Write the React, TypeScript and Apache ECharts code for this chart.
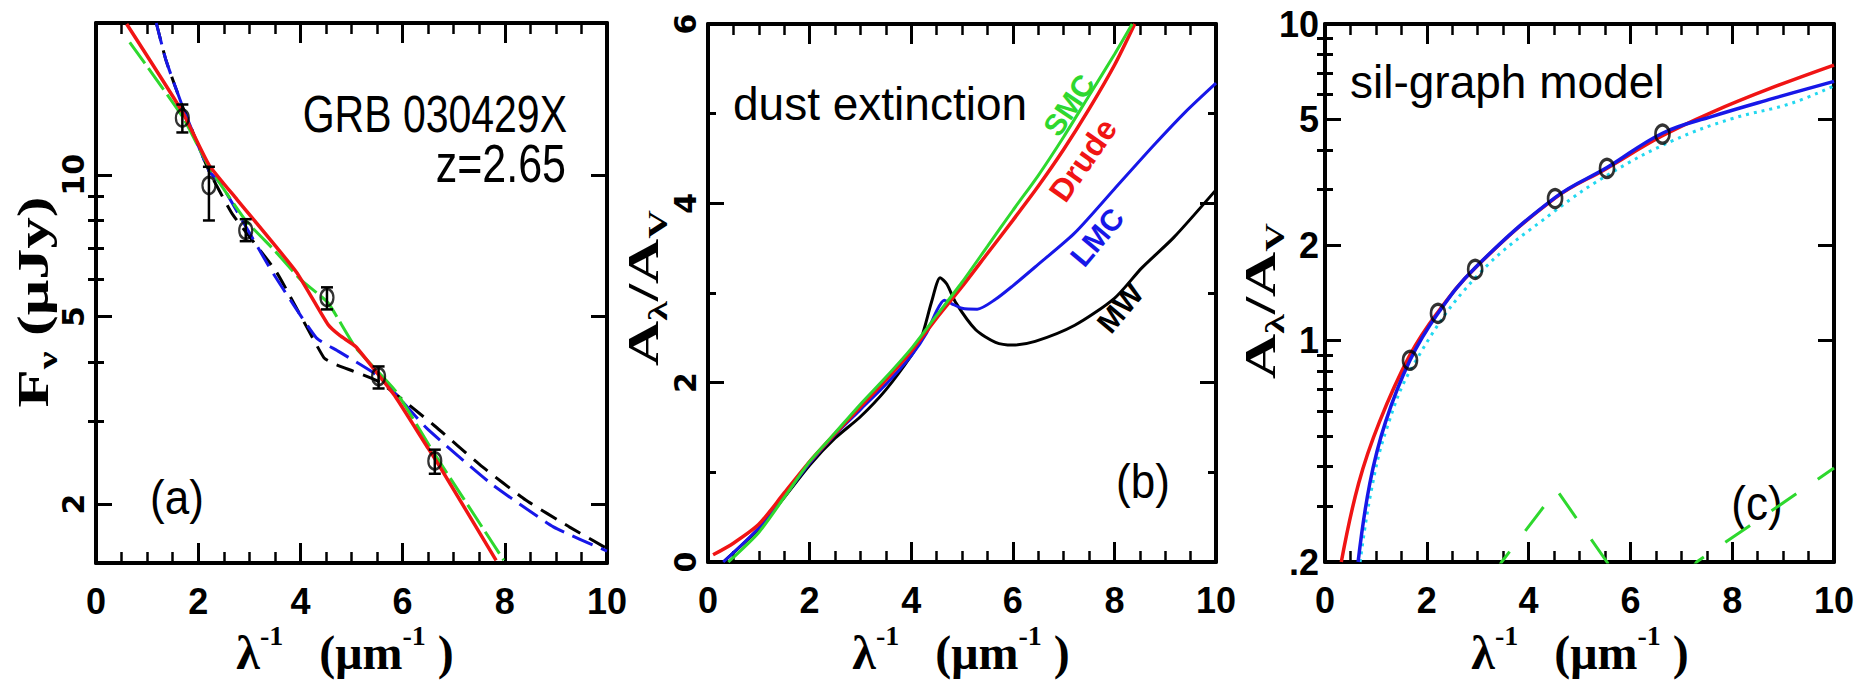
import React, { useEffect, useRef } from 'react';
import * as echarts from 'echarts';

// ---------------- shared axis values ----------------
const X_MIN = 0;
const X_MAX = 10;
const X_STEP = 2;

// ---------------- panel (a): GRB 030429X flux ----------------
const aYMin = 1.5;
const aYMax = 21;
const aYMajor = [2, 5, 10];
const aYMinor = [3, 4, 6, 7, 8, 9];

const aObsX = [1.69, 2.21, 2.93, 4.52, 5.53, 6.63];
const aObsFlux = [13.2, 9.49, 7.62, 5.49, 3.73, 2.47];
const aObsLo = [12.3, 8.0, 7.23, 5.18, 3.52, 2.32];
const aObsHi = [14.1, 10.4, 8.05, 5.77, 3.92, 2.61];

const aDrudeX = [0.6, 1.69, 2.21, 2.76, 3.92, 4.54, 4.77, 5.08, 5.53, 5.86, 6.44, 6.71, 7.83];
const aDrudeY = [20.9, 13.6, 10.5, 8.86, 6.22, 4.81, 4.56, 4.32, 3.76, 3.38, 2.69, 2.42, 1.52];

const aSmcX = [0.66, 1.69, 2.21, 2.93, 3.5, 4.0, 4.54, 5.08, 5.86, 6.63, 7.2, 7.98];
const aSmcY = [19.1, 13.3, 10.4, 8.0, 6.9, 6.0, 5.35, 4.3, 3.48, 2.55, 2.05, 1.52];

const aMwX = [1.18, 1.37, 1.69, 2.21, 2.68, 3.53, 4.46, 4.69, 5.55, 6.63, 7.52, 8.41, 9.26, 10.0];
const aMwY = [21.0, 17.5, 14.0, 10.2, 8.22, 6.22, 4.09, 3.96, 3.63, 2.93, 2.42, 2.04, 1.79, 1.61];

const aLmcX = [1.18, 1.37, 1.69, 2.21, 2.45, 3.45, 4.31, 4.73, 5.55, 6.47, 7.71, 8.95, 10.0];
const aLmcY = [21.0, 17.5, 14.0, 10.2, 9.54, 6.22, 4.51, 4.23, 3.72, 2.9, 2.22, 1.79, 1.59];

// ---------------- panel (b): dust extinction curves ----------------
const bYMin = 0;
const bYMax = 6;
const bYStep = 2;

const bMwX = [0.3, 1.0, 1.5, 2.0, 2.5, 3.0, 3.5, 4.0, 4.2, 4.4, 4.57, 4.7, 4.88, 5.27, 5.66, 6.0, 6.44, 7.22, 8.0, 8.54, 9.17, 10.0];
const bMwY = [0.0, 0.37, 0.72, 1.08, 1.38, 1.62, 1.92, 2.3, 2.5, 2.9, 3.17, 3.1, 2.89, 2.59, 2.45, 2.42, 2.46, 2.64, 2.94, 3.28, 3.62, 4.15];

const bLmcX = [0.3, 1.0, 1.5, 2.0, 2.5, 3.0, 3.5, 4.0, 4.3, 4.5, 4.65, 4.8, 5.0, 5.3, 5.66, 6.0, 6.44, 7.22, 8.0, 8.78, 9.4, 10.0];
const bLmcY = [0.0, 0.38, 0.73, 1.1, 1.42, 1.7, 1.98, 2.3, 2.55, 2.8, 2.92, 2.88, 2.83, 2.82, 2.93, 3.08, 3.29, 3.67, 4.16, 4.65, 5.02, 5.34];

const bSmcX = [0.4, 1.0, 1.5, 2.0, 2.5, 3.0, 3.5, 4.0, 4.5, 5.0, 5.5, 6.0, 6.5, 7.0, 7.5, 8.0, 8.35];
const bSmcY = [0.0, 0.33, 0.72, 1.12, 1.44, 1.76, 2.06, 2.38, 2.75, 3.12, 3.52, 3.92, 4.31, 4.74, 5.2, 5.66, 6.0];

const bDrudeX = [0.1, 0.5, 1.0, 1.5, 2.0, 2.5, 3.0, 3.5, 4.0, 4.5, 5.0, 5.5, 6.0, 6.5, 7.0, 7.5, 8.0, 8.4];
const bDrudeY = [0.08, 0.21, 0.42, 0.77, 1.12, 1.43, 1.73, 2.03, 2.35, 2.72, 3.07, 3.44, 3.81, 4.19, 4.6, 5.05, 5.54, 6.0];

// ---------------- panel (c): sil-graph model ----------------
const cYMin = 0.2;
const cYMax = 10;
const cYMajor = [0.2, 1, 2, 5, 10];
const cYMinor = [0.3, 0.4, 0.5, 0.6, 0.7, 0.8, 0.9, 3, 4, 6, 7, 8, 9];

const cObsX = [1.67, 2.22, 2.95, 4.52, 5.54, 6.63];
const cObsY = [0.867, 1.22, 1.68, 2.81, 3.5, 4.49];

const cRedX = [0.32, 0.66, 1.07, 1.66, 2.2, 2.97, 4.52, 5.51, 6.61, 7.61, 8.77, 10.0];
const cRedY = [0.2, 0.354, 0.554, 0.895, 1.22, 1.71, 2.82, 3.48, 4.42, 5.27, 6.28, 7.42];

const cBlueX = [0.65, 0.88, 1.19, 1.67, 2.22, 2.95, 4.52, 5.54, 6.63, 7.61, 8.77, 10.0];
const cBlueY = [0.2, 0.354, 0.554, 0.867, 1.22, 1.7, 2.83, 3.52, 4.52, 5.11, 5.8, 6.59];

const cCyanX = [0.69, 0.9, 1.2, 1.74, 2.97, 4.52, 5.6, 6.83, 7.99, 9.15, 10.0];
const cCyanY = [0.2, 0.33, 0.52, 0.84, 1.59, 2.57, 3.37, 4.28, 5.02, 5.61, 6.38];

const cGreenX = [3.3, 3.47, 4.55, 5.54, 5.7, 7.1, 7.3, 10.0];
const cGreenY = [0.18, 0.2, 0.338, 0.2, 0.18, 0.18, 0.2, 0.396];

// ---------------- styling ----------------
const RED = '#f01414';
const GREEN = '#2ed82e';
const BLUE = '#1717e8';
const BLACK = '#000000';
const CYAN = '#22d8f0';

const FONT_SANS = "'Liberation Sans', Arial, sans-serif";
const FONT_WIDE = "'DejaVu Sans', sans-serif";
const FONT_SERIF = "'Liberation Serif', 'DejaVu Serif', serif";

const zip = (xs: number[], ys: number[]) => xs.map((x, i) => [x, ys[i]]);

const axisLine = { show: true, onZero: false, lineStyle: { color: BLACK, width: 4 } };

function linX(gridIndex: number, position: string, labels: boolean) {
  return {
    type: 'value', gridIndex, position, min: X_MIN, max: X_MAX, interval: X_STEP,
    axisLine,
    axisTick: { show: true, inside: true, length: 20, lineStyle: { color: BLACK, width: 3 } },
    minorTick: { show: true, splitNumber: 4, length: 11, lineStyle: { color: BLACK, width: 2.5 } },
    splitLine: { show: false }, minorSplitLine: { show: false },
    axisLabel: labels
      ? { show: true, margin: 20, color: BLACK, fontFamily: FONT_SANS, fontWeight: 'bold', fontSize: 36, showMinLabel: true, showMaxLabel: true }
      : { show: false },
  };
}

function logY(gridIndex: number, position: string, min: number, max: number, ticks: number[], isMajor: boolean, labelCfg: any) {
  return {
    type: 'log', logBase: 10, gridIndex, position, min, max,
    axisLine: isMajor ? axisLine : { show: false },
    axisTick: { show: true, inside: true, length: isMajor ? 16 : 8, customValues: ticks, lineStyle: { color: BLACK, width: 3 } },
    minorTick: { show: false },
    splitLine: { show: false },
    axisLabel: labelCfg ? { ...labelCfg, customValues: ticks } : { show: false },
  };
}

function linY(gridIndex: number, position: string, labelCfg: any) {
  return {
    type: 'value', gridIndex, position, min: bYMin, max: bYMax, interval: bYStep,
    axisLine,
    axisTick: { show: true, inside: true, length: 16, lineStyle: { color: BLACK, width: 3 } },
    minorTick: { show: true, splitNumber: 2, length: 8, lineStyle: { color: BLACK, width: 3 } },
    splitLine: { show: false }, minorSplitLine: { show: false },
    axisLabel: labelCfg || { show: false },
  };
}

const rotLabel = { show: true, rotate: 90, margin: 8, color: BLACK, fontFamily: FONT_WIDE, fontWeight: 'bold', fontSize: 30, showMinLabel: true, showMaxLabel: true };

// rich-text helpers (main glyphs + raised / lowered small glyphs)
function richStyles(main: number, small: number, lh: number, smallLh: number) {
  const base = { fontFamily: FONT_SERIF, fontWeight: 'bold', fill: BLACK };
  return {
    m: { ...base, fontSize: main, lineHeight: lh },
    sup: { ...base, fontSize: small, lineHeight: smallLh, verticalAlign: 'top' },
    sub: { ...base, fontSize: small, lineHeight: smallLh, verticalAlign: 'bottom' },
  };
}

function xTitle(cx: number) {
  return {
    type: 'text', x: cx, y: 652,
    style: {
      text: '{m|λ}{sup|-1}{m|   (μm}{sup|-1}{m| )}',
      rich: richStyles(48, 28, 62, 36),
      align: 'center', verticalAlign: 'middle',
    },
  };
}

function yTitle(cx: number, cy: number, text: string) {
  return {
    type: 'text', x: cx, y: cy, rotation: Math.PI / 2, scaleX: 1.42,
    style: { text, rich: richStyles(44, 28, 56, 28), align: 'center', verticalAlign: 'middle' },
  };
}

function label(text: string, x: number, y: number, size: number, family: string, opts: any = {}) {
  return {
    type: 'text', x, y, rotation: opts.rotation || 0, scaleY: opts.scaleY || 1,
    style: { text, fontSize: size, fontFamily: family, fontWeight: opts.weight || 'normal', fill: opts.fill || BLACK, align: opts.align || 'center', verticalAlign: 'middle' },
  };
}

function lineSeries(xi: number, yi: number, xs: number[], ys: number[], color: string, width: number, type: any, z = 3, smooth = 0.25) {
  return {
    type: 'line', xAxisIndex: xi, yAxisIndex: yi, data: zip(xs, ys), showSymbol: false, symbol: 'none',
    smooth, z,
    lineStyle: { color, width, type, cap: 'butt' },
  };
}

export default function App() {
  const ref = useRef<HTMLDivElement>(null);
  useEffect(() => {
    if (!ref.current) return;
    const chart = echarts.init(ref.current, undefined, { renderer: 'svg' });

    const xAxis = [
      linX(0, 'bottom', true), linX(0, 'top', false),
      linX(1, 'bottom', true), linX(1, 'top', false),
      linX(2, 'bottom', true), linX(2, 'top', false),
    ];

    const aLabel = { ...rotLabel, formatter: (v: number) => String(Math.round(v)) };
    const cLabel = {
      show: true, margin: 6, color: BLACK, fontFamily: FONT_SANS, fontWeight: 'bold', fontSize: 36,
      formatter: (v: number) => (Math.abs(v - 0.2) < 1e-6 ? '.2' : String(Math.round(v))),
    };

    const yAxis = [
      logY(0, 'left', aYMin, aYMax, aYMajor, true, aLabel),      // 0
      logY(0, 'right', aYMin, aYMax, aYMajor, true, null),       // 1
      logY(0, 'left', aYMin, aYMax, aYMinor, false, null),       // 2
      logY(0, 'right', aYMin, aYMax, aYMinor, false, null),      // 3
      linY(1, 'left', rotLabel),                                  // 4
      linY(1, 'right', null),                                     // 5
      logY(2, 'left', cYMin, cYMax, cYMajor, true, cLabel),       // 6
      logY(2, 'right', cYMin, cYMax, cYMajor, true, null),        // 7
      logY(2, 'left', cYMin, cYMax, cYMinor, false, null),        // 8
      logY(2, 'right', cYMin, cYMax, cYMinor, false, null),       // 9
    ];

    const errorBars = {
      type: 'custom', xAxisIndex: 0, yAxisIndex: 0, z: 5,
      data: aObsX.map((x, i) => [x, aObsLo[i], aObsHi[i]]),
      encode: { x: 0, y: [1, 2] },
      renderItem: (params: any, api: any) => {
        const p1 = api.coord([api.value(0), api.value(1)]);
        const p2 = api.coord([api.value(0), api.value(2)]);
        const st = { stroke: BLACK, lineWidth: 2.5 };
        return {
          type: 'group',
          children: [
            { type: 'line', shape: { x1: p1[0], y1: p1[1], x2: p2[0], y2: p2[1] }, style: st },
            { type: 'line', shape: { x1: p1[0] - 6, y1: p1[1], x2: p1[0] + 6, y2: p1[1] }, style: st },
            { type: 'line', shape: { x1: p2[0] - 6, y1: p2[1], x2: p2[0] + 6, y2: p2[1] }, style: st },
          ],
        };
      },
    };

    const circles = (xi: number, yi: number, xs: number[], ys: number[], size: number[], bw: number) => ({
      type: 'scatter', xAxisIndex: xi, yAxisIndex: yi, data: zip(xs, ys), z: 6,
      symbol: 'circle', symbolSize: size,
      itemStyle: { color: 'rgba(0,0,0,0)', borderColor: BLACK, borderWidth: bw },
    });

    const series = [
      // panel a
      lineSeries(0, 0, aMwX, aMwY, BLACK, 3, [18, 10], 2, 0.15),
      lineSeries(0, 0, aLmcX, aLmcY, BLUE, 3, [22, 9], 3, 0.15),
      lineSeries(0, 0, aSmcX, aSmcY, GREEN, 3, [26, 6], 3, 0.15),
      lineSeries(0, 0, aDrudeX, aDrudeY, RED, 3.5, 'solid', 4, 0.15),
      errorBars,
      circles(0, 0, aObsX, aObsFlux, [13, 17], 2.5),
      // panel b
      lineSeries(2, 4, bMwX, bMwY, BLACK, 3, 'solid', 2),
      lineSeries(2, 4, bLmcX, bLmcY, BLUE, 3, 'solid', 3),
      lineSeries(2, 4, bDrudeX, bDrudeY, RED, 3.5, 'solid', 3),
      lineSeries(2, 4, bSmcX, bSmcY, GREEN, 3, 'solid', 4),
      // panel c
      lineSeries(4, 6, cGreenX, cGreenY, GREEN, 3, [30, 26], 2, 0),
      lineSeries(4, 6, cCyanX, cCyanY, CYAN, 3, [3, 5], 2, 0.4),
      lineSeries(4, 6, cRedX, cRedY, RED, 3.5, 'solid', 3, 0.4),
      lineSeries(4, 6, cBlueX, cBlueY, BLUE, 3.5, 'solid', 4, 0.4),
      circles(4, 6, cObsX, cObsY, [14, 18], 3),
    ];

    const graphic = [
      xTitle(345), xTitle(961), xTitle(1580),
      yTitle(33, 302, '{m|F}{sub|ν}{m| (μJy)}'),
      yTitle(643, 288, '{m|A}{sub|λ}{m|/A}{sub|V}'),
      yTitle(1260, 301, '{m|A}{sub|λ}{m|/A}{sub|V}'),
      label('GRB 030429X', 567, 114, 41, FONT_SANS, { align: 'right', scaleY: 1.25 }),
      label('z=2.65', 566, 163, 43, FONT_SANS, { align: 'right', scaleY: 1.25 }),
      label('(a)', 177, 497, 44, FONT_SANS, { scaleY: 1.1 }),
      label('dust extinction', 733, 104, 46, FONT_SANS, { align: 'left' }),
      label('(b)', 1143, 481, 44, FONT_SANS, { scaleY: 1.1 }),
      label('sil-graph model', 1350, 82, 46, FONT_SANS, { align: 'left' }),
      label('(c)', 1757, 503, 44, FONT_SANS, { scaleY: 1.1 }),
      label('SMC', 1069, 105, 30, FONT_SANS, { weight: 'bold', fill: GREEN, rotation: (56 * Math.PI) / 180 }),
      label('Drude', 1083, 160, 32, FONT_SANS, { weight: 'bold', fill: RED, rotation: (55 * Math.PI) / 180 }),
      label('LMC', 1097, 237, 30, FONT_SANS, { weight: 'bold', fill: BLUE, rotation: (50 * Math.PI) / 180 }),
      label('MW', 1120, 308, 30, FONT_SANS, { weight: 'bold', fill: BLACK, rotation: (50 * Math.PI) / 180 }),
    ];

    chart.setOption({
      animation: false,
      backgroundColor: '#ffffff',
      grid: [
        { left: 96, top: 23, width: 511, height: 540, outerBoundsMode: 'none', containLabel: false },
        { left: 708, top: 24, width: 508, height: 538, outerBoundsMode: 'none', containLabel: false },
        { left: 1325, top: 24, width: 509, height: 538, outerBoundsMode: 'none', containLabel: false },
      ],
      xAxis,
      yAxis,
      series,
      graphic,
    } as any);

    return () => chart.dispose();
  }, []);

  return <div ref={ref} style={{ position: 'fixed', left: 0, top: 0, width: 1857, height: 689, background: '#fff' }} />;
}
